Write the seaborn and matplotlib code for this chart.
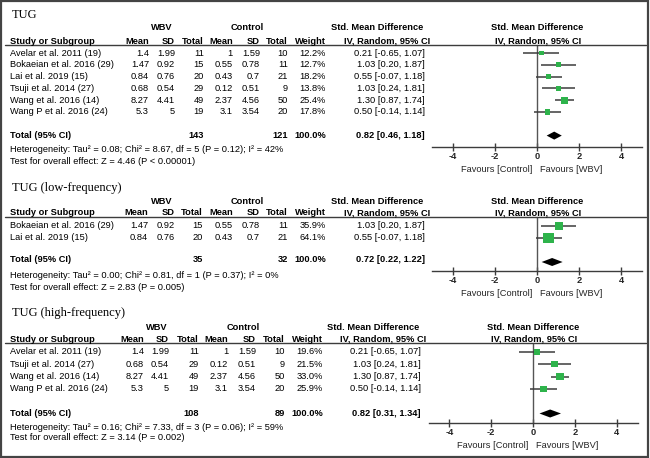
import matplotlib
matplotlib.use("Agg")
import matplotlib.pyplot as plt
import matplotlib.patches as mpatches
from matplotlib.lines import Line2D
import seaborn as sns
import numpy as np

# === Data ===
studies = ["Avelar et al. 2011 (19)", "Bokaeian et al. 2016 (29)", "Lai et al. 2019 (15)",
           "Tsuji et al. 2014 (27)", "Wang et al. 2016 (14)", "Wang P et al. 2016 (24)"]
wbv_mean = [1.4, 1.47, 0.84, 0.68, 8.27, 5.3]
wbv_sd = [1.99, 0.92, 0.76, 0.54, 4.41, 5]
wbv_n = [11, 15, 20, 29, 49, 19]
ctl_mean = [1, 0.55, 0.43, 0.12, 2.37, 3.1]
ctl_sd = [1.59, 0.78, 0.7, 0.51, 4.56, 3.54]
ctl_n = [10, 11, 21, 9, 50, 20]
smd = [0.21, 1.03, 0.55, 1.03, 1.30, 0.50]
smd_lo = [-0.65, 0.20, -0.07, 0.24, 0.87, -0.14]
smd_hi = [1.07, 1.87, 1.18, 1.81, 1.74, 1.14]

panel_titles = ["TUG", "TUG (low-frequency)", "TUG (high-frequency)"]
panel_idx = [[0, 1, 2, 3, 4, 5], [1, 2], [0, 3, 4, 5]]
panel_weights = [[12.2, 12.7, 18.2, 13.8, 25.4, 17.8], [35.9, 64.1], [19.6, 21.5, 33.0, 25.9]]
panel_tot_wbv = [143, 35, 108]
panel_tot_ctl = [121, 32, 89]
pooled = [0.82, 0.72, 0.82]
pooled_lo = [0.46, 0.22, 0.31]
pooled_hi = [1.18, 1.22, 1.34]
heterogeneity = ["Tau\u00b2 = 0.08; Chi\u00b2 = 8.67, df = 5 (P = 0.12); I\u00b2 = 42%",
                 "Tau\u00b2 = 0.00; Chi\u00b2 = 0.81, df = 1 (P = 0.37); I\u00b2 = 0%",
                 "Tau\u00b2 = 0.16; Chi\u00b2 = 7.33, df = 3 (P = 0.06); I\u00b2 = 59%"]
overall = ["Z = 4.46 (P < 0.00001)", "Z = 2.83 (P = 0.005)", "Z = 3.14 (P = 0.002)"]
xticks = [-4, -2, 0, 2, 4]

# === Layout (pixels) ===
W, H = 650, 458
# title, group header, column header, rule, first row, row step, total, het, test, axis line
rows_y = [
    dict(title=15, grp=28, col=41, rule=45, r0=53, step=11.8, total=136, het=150, test=162, axis=147),
    dict(title=188, grp=201, col=213, rule=217, r0=226, step=12.0, total=260, het=275, test=288, axis=271),
    dict(title=313, grp=327, col=339, rule=343, r0=352, step=12.3, total=413, het=427, test=438, axis=423),
]
# right edges of the table columns: mean, sd, total, mean, sd, total, weight, ci
cols_x = [
    [149, 175, 204, 233, 260, 288, 326, 425],
    [148, 175, 203, 233, 260, 288, 326, 425],
    [144, 169, 199, 228, 256, 285, 323, 421],
]
forest_x = [(432, 642), (432, 642), (428.5, 637.5)]

sns.set_theme(style="white")
plt.rcParams["font.family"] = ["Liberation Sans", "DejaVu Sans"]
plt.rcParams["axes.unicode_minus"] = False

FS = 6.7
GREEN = "#2eb34b"
GRAY = "#3c3c3c"

fig = plt.figure(figsize=(W / 100, H / 100), dpi=100)


def txt(x, y, s, ha="left", bold=False, size=FS, family=None, **kw):
    fig.text(x / W, 1 - y / H, s, ha=ha, va="center", fontsize=size,
             fontweight="bold" if bold else "normal",
             family=family if family else plt.rcParams["font.family"], color="black", **kw)


for p in range(3):
    ly = rows_y[p]
    cx = cols_x[p]
    fx0, fx1 = forest_x[p]
    zero_x = (fx0 + fx1) / 2

    txt(12, ly["title"], panel_titles[p], size=9, family=["Liberation Serif"])
    txt((cx[0] + cx[1]) / 2 - 0, ly["grp"], "WBV", ha="center", bold=True)
    txt((cx[3] + cx[4]) / 2 + 1, ly["grp"], "Control", ha="center", bold=True)
    txt(cx[7] - 48, ly["grp"], "Std. Mean Difference", ha="center", bold=True)
    txt(zero_x, ly["grp"], "Std. Mean Difference", ha="center", bold=True)
    txt(10, ly["col"], "Study or Subgroup", bold=True)
    for x, s in zip(cx[:7], ["Mean", "SD", "Total", "Mean", "SD", "Total", "Weight"]):
        txt(x, ly["col"], s, ha="right", bold=True)
    txt(cx[7] + 5, ly["col"], "IV, Random, 95% CI", ha="right", bold=True)
    txt(zero_x + 1, ly["col"], "IV, Random, 95% CI", ha="center", bold=True)
    fig.add_artist(Line2D([5 / W, 646 / W], [1 - ly["rule"] / H] * 2, color=GRAY, lw=1.0))

    idx = panel_idx[p]
    for i, k in enumerate(idx):
        y = ly["r0"] + i * ly["step"]
        txt(10, y, studies[k])
        vals = [f"{wbv_mean[k]:g}", f"{wbv_sd[k]:g}", f"{wbv_n[k]}",
                f"{ctl_mean[k]:g}", f"{ctl_sd[k]:g}", f"{ctl_n[k]}",
                f"{panel_weights[p][i]:.1f}%", f"{smd[k]:.2f} [{smd_lo[k]:.2f}, {smd_hi[k]:.2f}]"]
        for x, s in zip(cx, vals):
            txt(x, y, s, ha="right")

    txt(10, ly["total"], "Total (95% CI)", bold=True)
    txt(cx[2], ly["total"], str(panel_tot_wbv[p]), ha="right", bold=True)
    txt(cx[5], ly["total"], str(panel_tot_ctl[p]), ha="right", bold=True)
    txt(cx[6], ly["total"], "100.0%", ha="right", bold=True)
    txt(cx[7], ly["total"], f"{pooled[p]:.2f} [{pooled_lo[p]:.2f}, {pooled_hi[p]:.2f}]", ha="right", bold=True)
    txt(10, ly["het"], "Heterogeneity: " + heterogeneity[p])
    txt(10, ly["test"], "Test for overall effect: " + overall[p])

    # forest axes
    n = len(idx)
    ax = fig.add_axes([fx0 / W, 1 - ly["axis"] / H, (fx1 - fx0) / W, (ly["axis"] - ly["rule"]) / H])
    ax.set_facecolor("none")
    ax.set_xlim(-5, 5)
    top = -(ly["r0"] - ly["rule"]) / ly["step"]
    bottom = (ly["axis"] - ly["r0"]) / ly["step"]
    ax.set_ylim(bottom, top)
    ax.axvline(0, color="#555555", lw=1.0, zorder=1)
    ypos = np.arange(n)
    ax.hlines(ypos, [smd_lo[k] for k in idx], [smd_hi[k] for k in idx], color=GRAY, lw=1.1, zorder=2)
    sns.scatterplot(x=[smd[k] for k in idx], y=ypos, marker="s", color=GREEN,
                    s=[0.9 * w for w in panel_weights[p]], linewidth=0, ax=ax, zorder=3)
    ty = n + 1
    h = 4 / ly["step"]
    ax.fill([pooled_lo[p], pooled[p], pooled_hi[p], pooled[p]], [ty, ty - h, ty, ty + h],
            color="black", lw=0, zorder=3)
    for s in ["left", "right", "top"]:
        ax.spines[s].set_visible(False)
    ax.spines["bottom"].set_color(GRAY)
    ax.spines["bottom"].set_linewidth(1.0)
    ax.set_yticks([])
    ax.set_xticks(xticks)
    ax.set_xticklabels([str(t) for t in xticks], fontweight="bold")
    ax.tick_params(axis="x", direction="inout", length=6, width=1, color=GRAY,
                   labelsize=FS, pad=0.5, bottom=True)
    ax.annotate("Favours [Control]", xy=(-0.2, 0), xycoords=("data", "axes fraction"),
                xytext=(0, -22 * 0.72), textcoords="offset points", ha="right", va="center", fontsize=FS)
    ax.annotate("Favours [WBV]", xy=(0.15, 0), xycoords=("data", "axes fraction"),
                xytext=(0, -22 * 0.72), textcoords="offset points", ha="left", va="center", fontsize=FS)

# outer frame
fig.add_artist(mpatches.Rectangle((1 / W, 1 / H), 647 / W, 456 / H, fill=False,
                                  edgecolor="#444444", lw=1.6, transform=fig.transFigure))

fig.savefig("out.png", dpi=100)
